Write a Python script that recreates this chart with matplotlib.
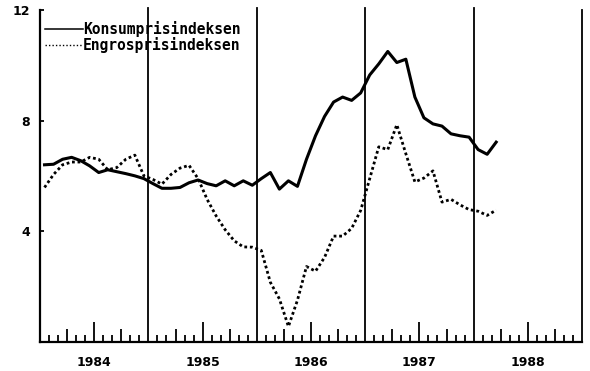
import numpy as np
import matplotlib
matplotlib.use("Agg")
import matplotlib.pyplot as plt
from matplotlib.lines import Line2D

# Monthly inflation, Jan 1984 - Mar 1988 (12-month change, per cent)
konsum = [6.40, 6.42, 6.60, 6.67, 6.55, 6.36, 6.12, 6.22, 6.15, 6.08, 6.00, 5.90,   # 1984
          5.72, 5.55, 5.55, 5.58, 5.75, 5.85, 5.72, 5.64, 5.82, 5.64, 5.82, 5.66,   # 1985
          5.90, 6.12, 5.52, 5.82, 5.62, 6.60, 7.45, 8.15, 8.67, 8.85, 8.73, 9.00,   # 1986
          9.65, 10.05, 10.50, 10.10, 10.22, 8.85, 8.10, 7.88, 7.80, 7.52, 7.45, 7.40,  # 1987
          6.95, 6.78, 7.22]                                                        # 1988
engros = [5.58, 6.05, 6.40, 6.50, 6.50, 6.67, 6.60, 6.22, 6.30, 6.60, 6.75, 6.00,
          5.87, 5.70, 6.05, 6.28, 6.38, 5.90, 5.15, 4.55, 4.05, 3.65, 3.43, 3.42,
          3.30, 2.15, 1.55, 0.55, 1.50, 2.72, 2.55, 3.05, 3.82, 3.82, 4.10, 4.75,
          5.90, 7.05, 6.95, 7.85, 6.80, 5.78, 5.92, 6.18, 5.05, 5.15, 4.95, 4.78,
          4.72, 4.57, 4.76]
years = [1984, 1985, 1986, 1987, 1988]
yticks = [4, 8, 12]

n = len(konsum)
t = 1984 + (np.arange(n) + 0.5) / 12

fig = plt.figure(figsize=(5.9, 3.71), dpi=100)
ax = fig.add_axes([40 / 590, 1 - 341.7 / 371, 542 / 590, 331.7 / 371])

ax.plot(t, engros, color="black", lw=2.0, linestyle=(0, (1, 1.0)))
ax.plot(t, konsum, color="black", lw=2.2, solid_joinstyle="round")

for y in years[1:]:
    ax.axvline(y, ymin=0, ymax=1.006, color="black", lw=1.3, clip_on=False)

ax.set_xlim(1984, 1989)
ax.set_ylim(0, 12)

ax.spines["top"].set_visible(False)
for s in ("left", "bottom"):
    ax.spines[s].set_linewidth(1.6)
ax.spines["right"].set_linewidth(1.3)

# half-year ticks carry the year labels, quarter ticks as minor
ax.set_xticks([y + 0.5 for y in years])
ax.set_xticklabels([str(y) for y in years], fontsize=9, fontweight="bold")
ax.set_xticks([y + q for y in years for q in (0.25, 0.75)], minor=True)
ax.tick_params(axis="x", which="major", direction="in", length=14.4, width=1.3, pad=10)
ax.tick_params(axis="x", which="minor", direction="in", length=9.4, width=1.3)

# plain monthly ticks
months = [y + m / 12 for y in years for m in (1, 2, 4, 5, 7, 8, 10, 11)]
sec = ax.secondary_xaxis("bottom")
sec.set_xticks(months)
sec.tick_params(direction="in", length=5, width=1.3, labelbottom=False)
sec.spines["bottom"].set_visible(False)

ax.set_yticks(yticks)
ax.set_yticklabels([str(v) for v in yticks], fontsize=9, fontweight="bold")
ax.tick_params(axis="y", direction="in", length=3, width=1.3, pad=7)

handles = [Line2D([], [], color="black", lw=1.1),
           Line2D([], [], color="black", lw=1.0, linestyle=(0, (1, 1.5)))]
ax.legend(handles, ["Konsumprisindeksen", "Engrosprisindeksen"],
          loc="upper left", bbox_to_anchor=(0.009, 0.966), frameon=False,
          borderpad=0, borderaxespad=0, labelspacing=0.0,
          handlelength=2.6, handletextpad=0.0,
          prop={"family": "DejaVu Sans Mono", "weight": "bold", "size": 10.5})

fig.savefig("out.png", dpi=100)
